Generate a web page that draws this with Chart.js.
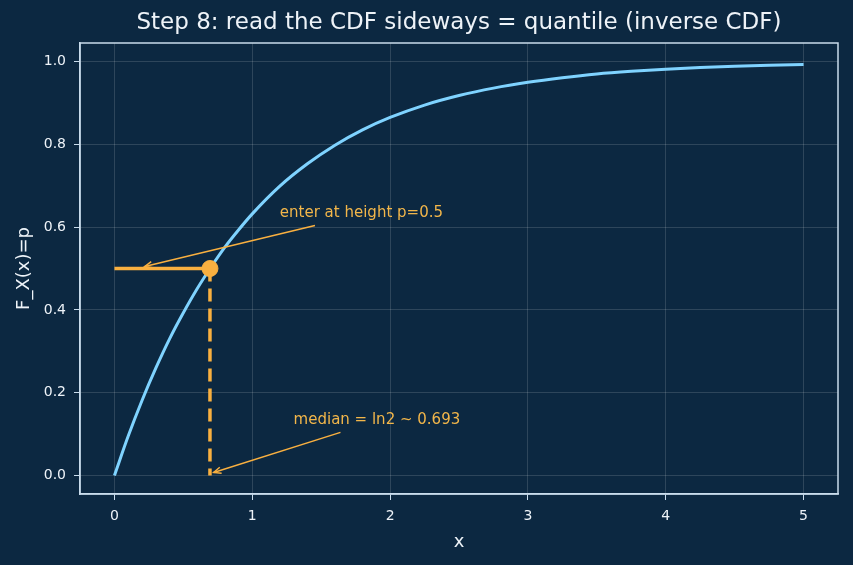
<!DOCTYPE html>
<html>
<head>
<meta charset="utf-8">
<script src="https://cdn.jsdelivr.net/npm/chart.js@4.4.0/dist/chart.umd.min.js"></script>
<style>
  html, body { margin: 0; padding: 0; background: #0c2841; }
  #wrap { width: 853px; height: 565px; }
</style>
</head>
<body>
<div id="wrap"><canvas id="myChart" width="853" height="565"></canvas></div>
<script>
// CDF curve
var xs = [0, 0.1, 0.2, 0.3, 0.4, 0.5, 0.6, 0.7, 0.8, 0.9, 1.0, 1.2, 1.4, 1.6, 1.8, 2.0, 2.25, 2.5, 2.75, 3.0, 3.25, 3.5, 3.75, 4.0, 4.25, 4.5, 4.75, 5.0];
var cdf = [0, 0.095, 0.181, 0.259, 0.330, 0.393, 0.451, 0.503, 0.551, 0.593, 0.632, 0.699, 0.753, 0.798, 0.835, 0.865, 0.895, 0.918, 0.936, 0.950, 0.961, 0.970, 0.9765, 0.9817, 0.9857, 0.9889, 0.9913, 0.9933];

// quantile reading at p = 0.5
var pLevel = 0.5;
var median = 0.693;

var xTicks = [0, 1, 2, 3, 4, 5];
var yTicks = [0, 0.2, 0.4, 0.6, 0.8, 1.0];

var titleText = "Step 8: read the CDF sideways = quantile (inverse CDF)";
var xLabel = "x";
var yLabel = "F_X(x)=p";

// annotations: text anchor, arrow tail, arrow head (data units)
var noteTexts = ["enter at height p=0.5", "median = ln2 ~ 0.693"];
var noteTextPos = [[1.2, 0.633], [1.3, 0.133]];
var noteTail = [[1.455, 0.604], [1.64, 0.104]];
var noteHead = [[0.22, 0.505], [0.72, 0.007]];

var orange = "#f9b040";
var noteColor = "#f2b64a";
var blue = "#7fd3ff";
var frameColor = "#c9dcec";
var textColor = "#eef3f8";
var fontFam = "'DejaVu Sans', sans-serif";

var curvePts = xs.map((x, i) => ({ x: x, y: cdf[i] }));

var framePlugin = {
    id: "frame",
    beforeDraw: chart => {
        var ctx = chart.ctx;
        ctx.save();
        ctx.fillStyle = "#0c2841";
        ctx.fillRect(0, 0, chart.width, chart.height);
        ctx.restore();
    },
    afterDraw: chart => {
        var ctx = chart.ctx;
        var a = chart.chartArea;
        var xs_ = chart.scales.x;
        var ys_ = chart.scales.y;
        ctx.save();
        ctx.strokeStyle = frameColor;
        ctx.lineWidth = 1.5;
        ctx.strokeRect(a.left, a.top, a.right - a.left, a.bottom - a.top);

        // title
        ctx.fillStyle = textColor;
        ctx.font = "23px " + fontFam;
        ctx.textAlign = "center";
        ctx.textBaseline = "middle";
        ctx.fillText(titleText, (a.left + a.right) / 2, 23);

        // annotations
        for (let i = 0; i < noteTexts.length; i++) {
            var tx = xs_.getPixelForValue(noteTextPos[i][0]);
            var ty = ys_.getPixelForValue(noteTextPos[i][1]);
            ctx.font = "15px " + fontFam;
            ctx.fillStyle = noteColor;
            ctx.textAlign = "left";
            ctx.fillText(noteTexts[i], tx, ty);

            var x1 = xs_.getPixelForValue(noteTail[i][0]);
            var y1 = ys_.getPixelForValue(noteTail[i][1]);
            var x2 = xs_.getPixelForValue(noteHead[i][0]);
            var y2 = ys_.getPixelForValue(noteHead[i][1]);
            ctx.strokeStyle = orange;
            ctx.lineWidth = 1.5;
            ctx.beginPath();
            ctx.moveTo(x1, y1);
            ctx.lineTo(x2, y2);
            ctx.stroke();
            var ang = Math.atan2(y1 - y2, x1 - x2);
            var hl = 8;
            ctx.beginPath();
            ctx.moveTo(x2 + hl * Math.cos(ang + 0.4), y2 + hl * Math.sin(ang + 0.4));
            ctx.lineTo(x2, y2);
            ctx.lineTo(x2 + hl * Math.cos(ang - 0.4), y2 + hl * Math.sin(ang - 0.4));
            ctx.stroke();
        }
        ctx.restore();
    }
};

var ctx = document.getElementById("myChart").getContext("2d");
var chart = new Chart(ctx, {
    type: "scatter",
    data: {
        datasets: [{
                label: "CDF",
                data: curvePts,
                showLine: true,
                borderColor: blue,
                borderWidth: 3,
                pointRadius: 0,
                cubicInterpolationMode: "monotone",
                order: 3
            },
            {
                label: "enter",
                data: [{ x: 0, y: pLevel }, { x: median, y: pLevel }],
                showLine: true,
                borderColor: orange,
                borderWidth: 3.5,
                pointRadius: 0,
                order: 2
            },
            {
                label: "drop",
                data: [{ x: median, y: pLevel }, { x: median, y: 0 }],
                showLine: true,
                borderColor: orange,
                borderWidth: 3.5,
                borderDash: [13, 7],
                borderCapStyle: "butt",
                pointRadius: 0,
                order: 2
            },
            {
                label: "point",
                data: [{ x: median, y: pLevel }],
                backgroundColor: orange,
                borderColor: orange,
                pointRadius: 8,
                order: 1
            }
        ]
    },
    options: {
        responsive: false,
        animation: false,
        events: [],
        layout: { padding: { top: 43, right: 15, left: 0, bottom: 0 } },
        plugins: {
            legend: { display: false },
            tooltip: { enabled: false },
            title: { display: false }
        },
        scales: {
            x: {
                type: "linear",
                min: -0.25,
                max: 5.25,
                afterBuildTicks: s => { s.ticks = xTicks.map(v => ({ value: v })); },
                afterFit: s => { s.height = 71; },
                ticks: {
                    color: textColor,
                    font: { family: fontFam, size: 14 },
                    padding: 8,
                    callback: v => String(v),
                    maxRotation: 0
                },
                grid: {
                    color: "rgba(255,255,255,0.14)",
                    tickColor: frameColor,
                    tickLength: 6,
                    lineWidth: 1
                },
                border: { color: frameColor, width: 1.5 },
                title: {
                    display: true,
                    text: xLabel,
                    color: textColor,
                    font: { family: fontFam, size: 18 },
                    padding: { top: 0, bottom: 12 }
                }
            },
            y: {
                type: "linear",
                min: -0.045,
                max: 1.045,
                afterBuildTicks: s => { s.ticks = yTicks.map(v => ({ value: v })); },
                afterFit: s => { s.width = 80; },
                ticks: {
                    color: textColor,
                    font: { family: fontFam, size: 14 },
                    padding: 8,
                    callback: v => v.toFixed(1)
                },
                grid: {
                    color: "rgba(255,255,255,0.14)",
                    tickColor: frameColor,
                    tickLength: 6,
                    lineWidth: 1
                },
                border: { color: frameColor, width: 1.5 },
                title: {
                    display: true,
                    text: yLabel,
                    color: textColor,
                    font: { family: fontFam, size: 18 },
                    padding: { top: 14, bottom: 0 }
                }
            }
        }
    },
    plugins: [framePlugin]
});
</script>
</body>
</html>
